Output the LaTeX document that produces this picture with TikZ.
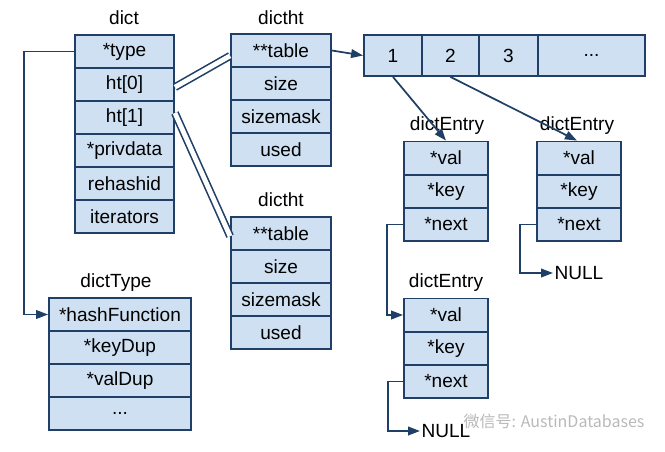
\documentclass[tikz,border=0pt]{standalone}
\usepackage{fontspec}
\setmainfont{Liberation Sans}
\newfontfamily\cjk{Noto Sans CJK SC}
\usetikzlibrary{arrows.meta}
\definecolor{boxline}{HTML}{1F3F66}
\definecolor{boxfill}{HTML}{CFE0F2}
\begin{document}
\begin{tikzpicture}[%
  x = 0.75pt, y = -0.75pt,
  field/.style = {draw = boxline, fill = boxfill, line width = 1.4pt, inner sep = 0pt,
    minimum height = 24.75pt, font = \fontsize{14.3}{16}\selectfont},
  title/.style = {inner sep = 1pt, font = \fontsize{14.3}{16}\selectfont},
  link/.style = {draw = boxline, line width = 1.3pt, -{Triangle[length = 9pt, width = 6.5pt]}},
  twin/.style = {draw = boxline, double = white, double distance = 3.6pt, line width = 1.2pt}]
  \useasboundingbox (0, 0) rectangle (665, 451);

  % dict
  \node[title] (dict) at (124, 18) {dict};
  \node[field, minimum width = 74.25pt] (dict-type) at (124.5, 51.5) {*type};
  \node[field, minimum width = 74.25pt] (dict-ht0) at (124.5, 84.5) {ht[0]};
  \node[field, minimum width = 74.25pt] (dict-ht1) at (124.5, 117.5) {ht[1]};
  \node[field, minimum width = 74.25pt] (dict-priv) at (124.5, 150.5) {*privdata};
  \node[field, minimum width = 74.25pt] (dict-rehash) at (124.5, 183.5) {rehashid};
  \node[field, minimum width = 74.25pt] (dict-iter) at (124.5, 216.5) {iterators};

  % dictht for ht[0]
  \node[title] (dht1) at (281, 18) {dictht};
  \node[field, minimum width = 75pt] (dht1-table) at (281, 50.5) {**table};
  \node[field, minimum width = 75pt] (dht1-size) at (281, 83.5) {size};
  \node[field, minimum width = 75pt] (dht1-mask) at (281, 116.5) {sizemask};
  \node[field, minimum width = 75pt] (dht1-used) at (281, 149.5) {used};

  % dictht for ht[1]
  \node[title] (dht2) at (281, 200) {dictht};
  \node[field, minimum width = 75pt] (dht2-table) at (281, 233.5) {**table};
  \node[field, minimum width = 75pt] (dht2-size) at (281, 266.5) {size};
  \node[field, minimum width = 75pt] (dht2-mask) at (281, 299.5) {sizemask};
  \node[field, minimum width = 75pt] (dht2-used) at (281, 332.5) {used};

  % dictType
  \node[title] (dtype) at (116, 283) {dictType};
  \node[field, minimum width = 106.5pt] (dtype-hash) at (120, 314.5) {*hashFunction};
  \node[field, minimum width = 106.5pt] (dtype-key) at (120, 347.5) {*keyDup};
  \node[field, minimum width = 106.5pt] (dtype-val) at (120, 380.5) {*valDup};
  \node[field, minimum width = 106.5pt] (dtype-more) at (120, 413.5) {...};

  % bucket array
  \node[field, minimum height = 30.75pt, minimum width = 43.5pt] (arr-1) at (393, 55.5) {1};
  \node[field, minimum height = 30.75pt, minimum width = 42.75pt] (arr-2) at (450.5, 55.5) {2};
  \node[field, minimum height = 30.75pt, minimum width = 44.25pt] (arr-3) at (508.5, 55.5) {3};
  \node[field, minimum height = 30.75pt, minimum width = 80.25pt] (arr-more) at (591.5, 55.5) {...};

  % dictEntry nodes
  \node[title] (ent1) at (447, 126) {dictEntry};
  \node[field, minimum width = 63pt] (ent1-val) at (446, 158) {*val};
  \node[field, minimum width = 63pt] (ent1-key) at (446, 191.5) {*key};
  \node[field, minimum width = 63pt] (ent1-next) at (446, 224.5) {*next};

  \node[title] (ent2) at (577, 126) {dictEntry};
  \node[field, minimum width = 63pt] (ent2-val) at (579, 158) {*val};
  \node[field, minimum width = 63pt] (ent2-key) at (579, 191.5) {*key};
  \node[field, minimum width = 63pt] (ent2-next) at (579, 224.5) {*next};

  \node[title] (ent3) at (446, 283) {dictEntry};
  \node[field, minimum width = 63pt] (ent3-val) at (446, 315) {*val};
  \node[field, minimum width = 63pt] (ent3-key) at (446, 348.5) {*key};
  \node[field, minimum width = 63pt] (ent3-next) at (446, 381.5) {*next};

  \node[title, anchor = west] (null1) at (553, 273) {NULL};
  \node[title, anchor = west] (null2) at (420, 431) {NULL};

  \node[inner sep = 0pt, text = gray!55, font = \cjk\fontsize{12}{14}\selectfont] (mark) at (554, 421) {微信号: AustinDatabases};

  \draw[twin] ([yshift = -2pt]dict-ht0.east) -- ([yshift = -4pt]dht1-table.west);
  \draw[twin] ([yshift = 3.4pt]dict-ht1.east) -- ([yshift = -2pt]dht2-table.west);
  \draw[link] (dict-type.west) -- ++(-50, 0) |- (dtype-hash.west);
  \draw[link] (dht1-table.east) -- (arr-1.west);
  \draw[link] (arr-1.south) -- (ent1-val.north);
  \draw[link] (arr-2.south) -- ([xshift = -1.5pt]ent2-val.north);
  \draw[link] (ent1-next.west) -- ++(-16, 0) |- (ent3-val.west);
  \draw[link] (ent2-next.west) -- ++(-16, 0) |- (null1.west);
  \draw[link] (ent3-next.west) -- ++(-15, 0) |- (null2.west);
\end{tikzpicture}
\end{document}
